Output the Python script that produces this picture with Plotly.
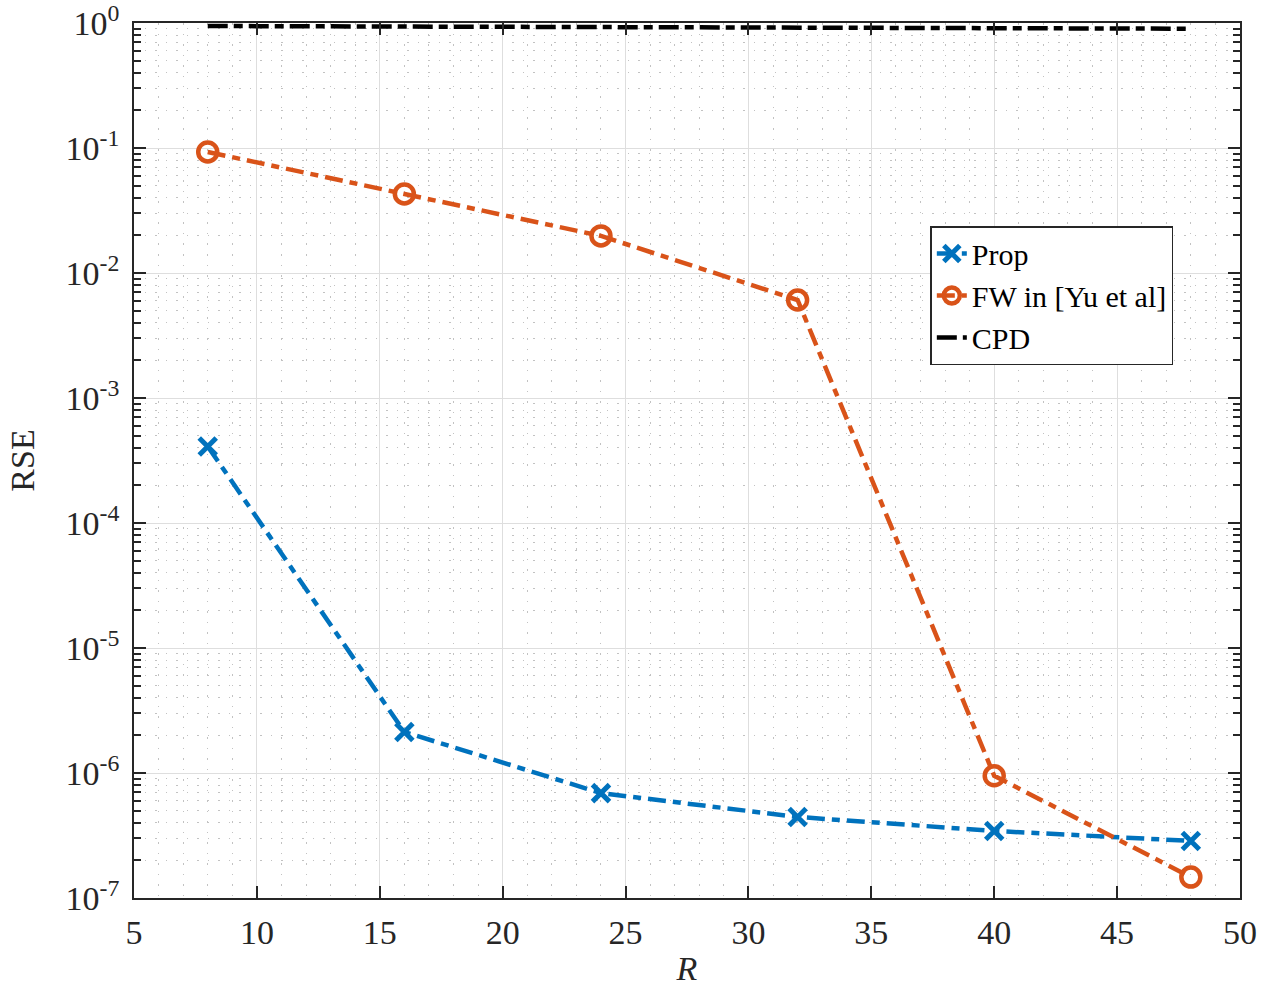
import plotly.graph_objects as go

R = [8, 16, 24, 32, 40, 48]
rse_prop = [4.1e-4, 2.13e-6, 6.9e-7, 4.45e-7, 3.44e-7, 2.86e-7]
rse_fw = [0.093, 0.0429, 0.0198, 6.08e-3, 9.5e-7, 1.47e-7]
rse_cpd = [0.946, 0.94, 0.93, 0.92, 0.91, 0.90]

ytick_vals = [1e-7, 1e-6, 1e-5, 1e-4, 1e-3, 1e-2, 1e-1, 1e0]
ytick_text = ["10<sup>-7</sup>", "10<sup>-6</sup>", "10<sup>-5</sup>", "10<sup>-4</sup>",
              "10<sup>-3</sup>", "10<sup>-2</sup>", "10<sup>-1</sup>", "10<sup>0</sup>"]
xtick_vals = [5, 10, 15, 20, 25, 30, 35, 40, 45, 50]

BLUE = "#0072BD"
ORANGE = "#D95319"
DASH = "18px,7px,8px,7px"
AX = "#262626"
FONT = "Liberation Serif, Times New Roman, serif"
MINOR_COLOR = "#c2c2c2"
MINOR_DASH = "1.5px,9px"

y_minor = [m * 10.0 ** e for e in range(-7, 0) for m in range(2, 10)]

fig = go.Figure()
fig.add_trace(go.Scatter(
    x=R, y=rse_prop, name="Prop", mode="lines+markers",
    line=dict(color=BLUE, width=4.5, dash=DASH),
    marker=dict(symbol="x-thin", size=17, color=BLUE, line=dict(color=BLUE, width=5)),
))
fig.add_trace(go.Scatter(
    x=R, y=rse_fw, name="FW in [Yu et al]", mode="lines+markers",
    line=dict(color=ORANGE, width=4.5, dash=DASH),
    marker=dict(symbol="circle-open", size=19, color=ORANGE, line=dict(color=ORANGE, width=4.5)),
))
fig.add_trace(go.Scatter(
    x=R, y=rse_cpd, name="CPD", mode="lines",
    line=dict(color="black", width=4.5, dash="20px,6px,9px,6px"),
))

fig.update_layout(
    width=1266, height=987,
    margin=dict(l=134, r=26, t=23, b=89, autoexpand=False),
    paper_bgcolor="white", plot_bgcolor="white",
    font=dict(family=FONT, size=30, color=AX),
    showlegend=True,
    legend=dict(
        x=0.72, y=0.768, xanchor="left", yanchor="top",
        bgcolor="white", bordercolor=AX, borderwidth=1.5,
        font=dict(family=FONT, size=30, color="black"),
        tracegroupgap=0,
    ),
)

fig.update_xaxes(
    range=[5, 50], tickvals=xtick_vals, automargin=False, ticklabeloverflow="allow",
    showline=True, linecolor=AX, linewidth=1.5, mirror="allticks",
    ticks="inside", ticklen=12, tickwidth=1.5, tickcolor=AX,
    showgrid=True, gridcolor="#dedede", gridwidth=1.2,
    zeroline=False, ticklabelstandoff=3,
    tickfont=dict(family=FONT, size=34, color=AX),
    title=dict(text="<i>R</i>", font=dict(family=FONT, size=34, color=AX), standoff=22),
    minor=dict(dtick=1, showgrid=True, gridcolor=MINOR_COLOR, griddash=MINOR_DASH, gridwidth=1, ticks=""),
)
fig.update_yaxes(
    type="log", range=[-7, 0], tickvals=ytick_vals, ticktext=ytick_text, automargin=False,
    ticklabeloverflow="allow",
    showline=True, linecolor=AX, linewidth=1.5, mirror="allticks",
    ticks="inside", ticklen=12, tickwidth=1.5, tickcolor=AX,
    showgrid=True, gridcolor="#dedede", gridwidth=1.2,
    zeroline=False, ticklabelstandoff=6,
    tickfont=dict(family=FONT, size=34, color=AX),
    title=dict(text="RSE", font=dict(family=FONT, size=34, color=AX), standoff=21),
    minor=dict(tickvals=y_minor, showgrid=True, gridcolor=MINOR_COLOR, griddash=MINOR_DASH,
               gridwidth=1, ticks="inside", ticklen=7, tickwidth=1.5, tickcolor=AX),
)

fig.write_html("out.html")
